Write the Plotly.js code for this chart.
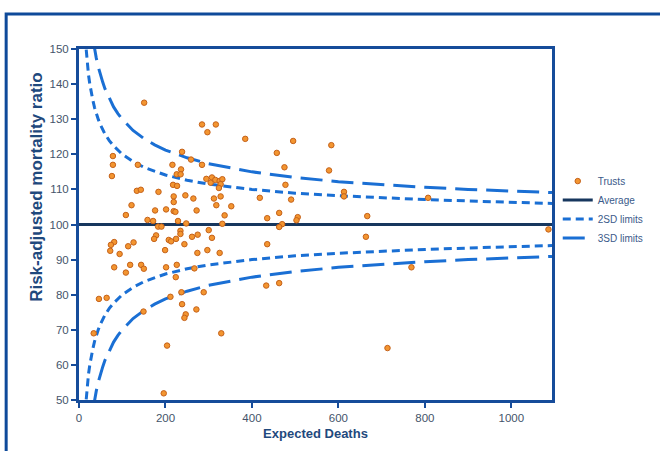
<!DOCTYPE html>
<html>
<head>
<meta charset="utf-8">
<script src="https://cdn.plot.ly/plotly-3.0.1.min.js"></script>
<style>
  html, body { margin: 0; padding: 0; background: #ffffff; }
  #chart { width: 660px; height: 451px; }
</style>
</head>
<body>
<div id="chart"></div>
<script>
// Trusts: expected deaths and risk-adjusted mortality ratio
const trustExpected = [
  150.7, 284.5, 316.5, 297, 384.5, 495.3, 583.6, 238.4, 457.5, 78.4,
  259.1, 284.5, 216.1, 78.4, 136.1, 475.2, 236, 578.3, 226, 235,
  76.1, 294.6, 307.5, 304.5, 315.3, 325.3, 331.5, 327.6, 323.6, 217.5,
  226.8, 477.5, 133.8, 143, 183.8, 612.9, 612.9, 219, 219, 246,
  264.5, 312.1, 327.6, 418.2, 490.6, 807.4, 317.6, 352.2, 121.5, 176,
  201.4, 219, 223, 272, 108.4, 336.8, 463, 666.7, 505.9, 503,
  435.3, 158.5, 171.4, 229, 248, 331.5, 469.9,
  183, 190.7, 463, 1085.8, 300, 234.6, 234.6, 307.5, 274.5, 261.4,
  178.3, 173.7, 207.6, 213, 224.5, 663.6, 81.4, 73.8, 72.2, 113.7,
  126.2, 93.9, 199.1, 243.8, 435.3, 273.8, 296.9, 325.3, 81.4, 118.3,
  108.4, 143.7, 150, 201.4, 226.1, 223.8, 266.9, 768.9, 433, 463,
  46.1, 63.9, 211.5, 236.9, 288.4, 238.4, 271.5, 149.2, 246.8, 243.8,
  203.7, 34, 329, 713.5, 196
];
const trustRatio = [
  134.7, 128.5, 128.5, 126.3, 124.4, 123.8, 122.6, 120.7, 120.4, 119.5,
  118.5, 117.0, 117.0, 117.0, 117.0, 116.3, 115.7, 115.4, 114.3, 114.3,
  113.8, 113.0, 113.4, 111.9, 112.7, 112.4, 112.9, 111.5, 110.4, 111.3,
  111.0, 111.3, 109.6, 109.9, 109.3, 109.3, 108.0, 108.0, 106.4, 108.3,
  107.4, 107.4, 108.0, 107.6, 107.1, 107.6, 105.5, 105.2, 105.5, 104.0,
  104.3, 103.8, 103.6, 104.0, 102.7, 102.6, 103.3, 102.4, 102.1, 101.2,
  101.8, 101.3, 101.0, 101.0, 100.3, 100.2, 100.1,
  99.4, 99.4, 99.3, 98.6, 98.4, 98.2, 97.3, 96.2, 97.1, 96.5,
  96.9, 95.9, 95.6, 95.2, 95.9, 96.5, 95.0, 94.2, 92.5, 93.8,
  94.9, 91.6, 92.7, 94.4, 94.4, 91.9, 92.7, 91.9, 87.8, 88.5,
  86.3, 88.5, 87.4, 87.8, 88.5, 85.0, 87.5, 87.8, 82.6, 83.3,
  78.8, 79.1, 79.4, 80.7, 80.7, 77.3, 75.8, 75.2, 74.4, 73.4,
  65.5, 69.0, 69.0, 64.8, 51.9
];

// Average line
const averageExpected = [0, 1094];
const averageRatio = [100, 100];

// 2SD control limits
const limit2Expected = [14, 16, 18, 20, 22, 25, 28, 32, 36, 40, 45, 50, 60, 70, 80, 100, 125, 150, 200, 250, 300, 400, 500, 600, 700, 800, 900, 1000, 1094];
const upper2SD = [153.5, 150.0, 147.1, 144.7, 142.6, 140.0, 137.8, 135.4, 133.3, 131.6, 129.8, 128.3, 125.8, 123.9, 122.4, 120.0, 117.9, 116.3, 114.1, 112.6, 111.5, 110.0, 108.9, 108.2, 107.6, 107.1, 106.7, 106.3, 106.0];
const lower2SD = [46.5, 50.0, 52.9, 55.3, 57.4, 60.0, 62.2, 64.6, 66.7, 68.4, 70.2, 71.7, 74.2, 76.1, 77.6, 80.0, 82.1, 83.7, 85.9, 87.4, 88.5, 90.0, 91.1, 91.8, 92.4, 92.9, 93.3, 93.7, 94.0];

// 3SD control limits
const limit3Expected = [32, 36, 40, 45, 50, 55, 60, 70, 80, 90, 100, 125, 150, 175, 200, 250, 300, 400, 500, 600, 700, 800, 900, 1000, 1094];
const upper3SD = [153.0, 150.0, 147.4, 144.7, 142.4, 140.5, 138.7, 135.9, 133.5, 131.6, 130.0, 126.8, 124.5, 122.7, 121.2, 119.0, 117.3, 115.0, 113.4, 112.2, 111.3, 110.6, 110.0, 109.5, 109.1];
const lower3SD = [47.0, 50.0, 52.6, 55.3, 57.6, 59.5, 61.3, 64.1, 66.5, 68.4, 70.0, 73.2, 75.5, 77.3, 78.8, 81.0, 82.7, 85.0, 86.6, 87.8, 88.7, 89.4, 90.0, 90.5, 90.9];

const xTicks = [0, 200, 400, 600, 800, 1000];
const yTicks = [50, 60, 70, 80, 90, 100, 110, 120, 130, 140, 150];

const limitColor = '#1a6fd4';
const axisColor = '#164c9a';
const navy = '#17375e';
const titleColor = '#1f497d';

const traces = [
  {x: averageExpected, y: averageRatio, mode: 'lines', name: 'Average', legendrank: 2,
   line: {color: navy, width: 3}, hoverinfo: 'skip'},
  {x: limit2Expected, y: upper2SD, mode: 'lines', name: '2SD limits', legendgroup: 'sd2', legendrank: 3,
   line: {color: limitColor, width: 3, dash: '8px,5px'}},
  {x: limit2Expected, y: lower2SD, mode: 'lines', name: '2SD limits', legendgroup: 'sd2', showlegend: false,
   line: {color: limitColor, width: 3, dash: '8px,5px'}},
  {x: limit3Expected, y: upper3SD, mode: 'lines', name: '3SD limits', legendgroup: 'sd3', legendrank: 4,
   line: {color: limitColor, width: 3, dash: '22px,9px'}},
  {x: limit3Expected, y: lower3SD, mode: 'lines', name: '3SD limits', legendgroup: 'sd3', showlegend: false,
   line: {color: limitColor, width: 3, dash: '22px,9px'}},
  {x: trustExpected, y: trustRatio, mode: 'markers', name: 'Trusts', legendrank: 1,
   marker: {color: '#f39530', size: 5.5, line: {color: '#c5621a', width: 1}}}
];

const layout = {
  width: 660, height: 451,
  margin: {l: 79, r: 107, t: 49, b: 51},
  paper_bgcolor: '#ffffff',
  plot_bgcolor: '#ffffff',
  font: {family: '"Liberation Sans", Arial, sans-serif', color: '#44546a', size: 11},
  showlegend: true,
  legend: {
    x: 1.01, y: 0.665, xanchor: 'left', yanchor: 'top',
    bgcolor: 'rgba(0,0,0,0)', borderwidth: 0,
    font: {size: 10, color: '#3b5a8a'},
    tracegroupgap: 0
  },
  xaxis: {
    range: [0, 1094],
    tickvals: xTicks,
    ticktext: xTicks.map(String),
    showgrid: false, zeroline: false,
    showline: true, linecolor: axisColor, linewidth: 3, mirror: true,
    ticks: 'outside', ticklen: 5, tickwidth: 2, tickcolor: axisColor,
    tickfont: {size: 11.5, color: '#44546a'},
    title: {text: 'Expected Deaths', font: {size: 13, color: titleColor, weight: 'bold'}, standoff: 7}
  },
  yaxis: {
    range: [50, 150],
    tickvals: yTicks,
    ticktext: yTicks.map(String),
    showgrid: false, zeroline: false,
    showline: true, linecolor: axisColor, linewidth: 3, mirror: true,
    ticks: 'outside', ticklen: 5, tickwidth: 2, tickcolor: axisColor,
    tickfont: {size: 11.5, color: '#44546a'}
  },
  annotations: [
    {text: 'Risk-adjusted mortality ratio', xref: 'paper', yref: 'paper',
     x: -0.089, y: 0.607, xanchor: 'center', yanchor: 'middle', textangle: -90,
     showarrow: false, font: {size: 17, color: titleColor, weight: 'bold'}}
  ],
  shapes: [
    {type: 'rect', xref: 'paper', yref: 'paper', layer: 'below',
     x0: -0.154, x1: 1.35, y0: -0.2, y1: 1.0997,
     line: {color: '#0e4a9a', width: 3}, fillcolor: 'rgba(0,0,0,0)'}
  ]
};

Plotly.newPlot('chart', traces, layout, {displayModeBar: false, staticPlot: true});
</script>
</body>
</html>
